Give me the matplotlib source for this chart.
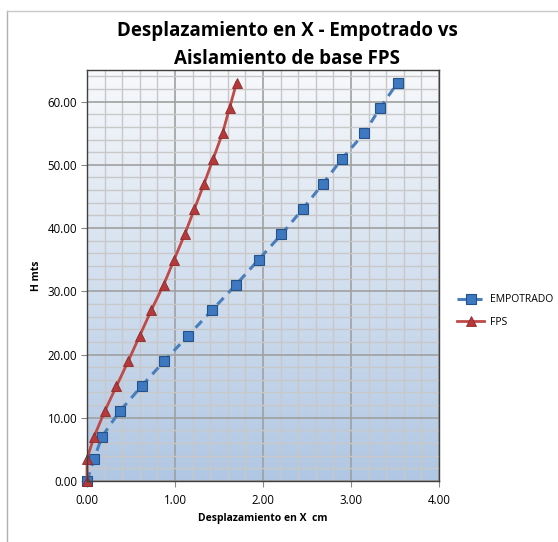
import numpy as np
import matplotlib
matplotlib.use("Agg")
import matplotlib.pyplot as plt
from matplotlib.ticker import MultipleLocator, FormatStrFormatter
from matplotlib.lines import Line2D

plt.rcParams['font.family'] = ['Open Sans', 'DejaVu Sans']

H = [0, 3.5, 7, 11, 15, 19, 23, 27, 31, 35, 39, 43, 47, 51, 55, 59, 63]
empotrado = [0.0, 0.08, 0.17, 0.37, 0.62, 0.88, 1.15, 1.42, 1.69, 1.95, 2.21, 2.45, 2.68, 2.90, 3.15, 3.33, 3.53]
fps = [0.0, 0.0, 0.08, 0.20, 0.335, 0.47, 0.60, 0.73, 0.87, 0.99, 1.11, 1.22, 1.33, 1.435, 1.54, 1.62, 1.70]

title = "Desplazamiento en X - Empotrado vs\nAislamiento de base FPS"
xlabel = "Desplazamiento en X  cm"
ylabel = "H mts"

W, Hpx = 558, 542
fig = plt.figure(figsize=(W/100, Hpx/100), dpi=100)
L, R, T, B = 87, 439, 70, 481
ax = fig.add_axes([L/W, 1-B/Hpx, (R-L)/W, (B-T)/Hpx])

YMAX = 65
# gradient background
top = np.array([0.97, 0.975, 0.985])
bot = np.array([0.69, 0.78, 0.89])
t = np.linspace(0, 1, 256)[:, None]
grad = (top[None, :] * (1 - t) + bot[None, :] * t)[:, None, :]
ax.imshow(grad, extent=[0, 4, 0, YMAX], aspect='auto', origin='upper', zorder=0)

ax.set_xlim(0, 4)
ax.set_ylim(0, YMAX)
ax.xaxis.set_major_locator(MultipleLocator(1))
ax.xaxis.set_minor_locator(MultipleLocator(0.2))
ax.yaxis.set_major_locator(MultipleLocator(10))
ax.yaxis.set_minor_locator(MultipleLocator(2))
ax.xaxis.set_major_formatter(FormatStrFormatter('%.2f'))
ax.yaxis.set_major_formatter(FormatStrFormatter('%.2f'))
ax.grid(which='minor', color='#c8c8c8', linewidth=1.0, zorder=1)
ax.grid(which='major', color='#a0a0a0', linewidth=1.2, zorder=1)
ax.set_axisbelow(True)
ax.tick_params(which='minor', length=0)
ax.tick_params(which='major', direction='out', length=4, color='#888888', pad=3)
ax.tick_params(axis='y', labelsize=8.3)
ax.tick_params(axis='x', labelsize=8.3, pad=5)
for s in ax.spines.values():
    s.set_color('#404040')
    s.set_linewidth(1.0)
    s.set_zorder(5)

ax.plot(empotrado, H, color='#4a7ebb', linestyle=(0, (3, 2.2)), linewidth=2.2,
        marker='s', markersize=6.5, markerfacecolor='#3d78c0', markeredgecolor='#24538c',
        markeredgewidth=0.8, zorder=3, clip_on=False, label='EMPOTRADO')
ax.plot(fps, H, color='#be4b48', linestyle='-', linewidth=2.0,
        marker='^', markersize=7.5, markerfacecolor='#b5383a', markeredgecolor='#8c2a2a',
        markeredgewidth=0.6, zorder=4, clip_on=False, label='FPS')

ax.set_xlabel(xlabel, fontsize=7.5, fontweight='bold', labelpad=5)
ax.set_ylabel(ylabel, fontsize=7.5, fontweight='bold', labelpad=4)

fig.text(287/W, 1-31/Hpx, "Desplazamiento en X - Empotrado vs", ha='center', va='center',
         fontsize=13.5, fontweight='bold')
fig.text(287/W, 1-59/Hpx, "Aislamiento de base FPS", ha='center', va='center',
         fontsize=13.5, fontweight='bold')

leg = fig.legend(loc='center left', bbox_to_anchor=(448/W, 1-311/Hpx), frameon=False,
                 fontsize=7.5, handlelength=2.6, labelspacing=1.1, handletextpad=0.5)

fig.add_artist(Line2D([7/W, 7/W], [0, 1-11/Hpx], transform=fig.transFigure, color='#b0b0b0', linewidth=1))
fig.add_artist(Line2D([7/W, 1], [1-11/Hpx, 1-11/Hpx], transform=fig.transFigure, color='#c8c8c8', linewidth=1))

fig.savefig('out.png', dpi=100)
